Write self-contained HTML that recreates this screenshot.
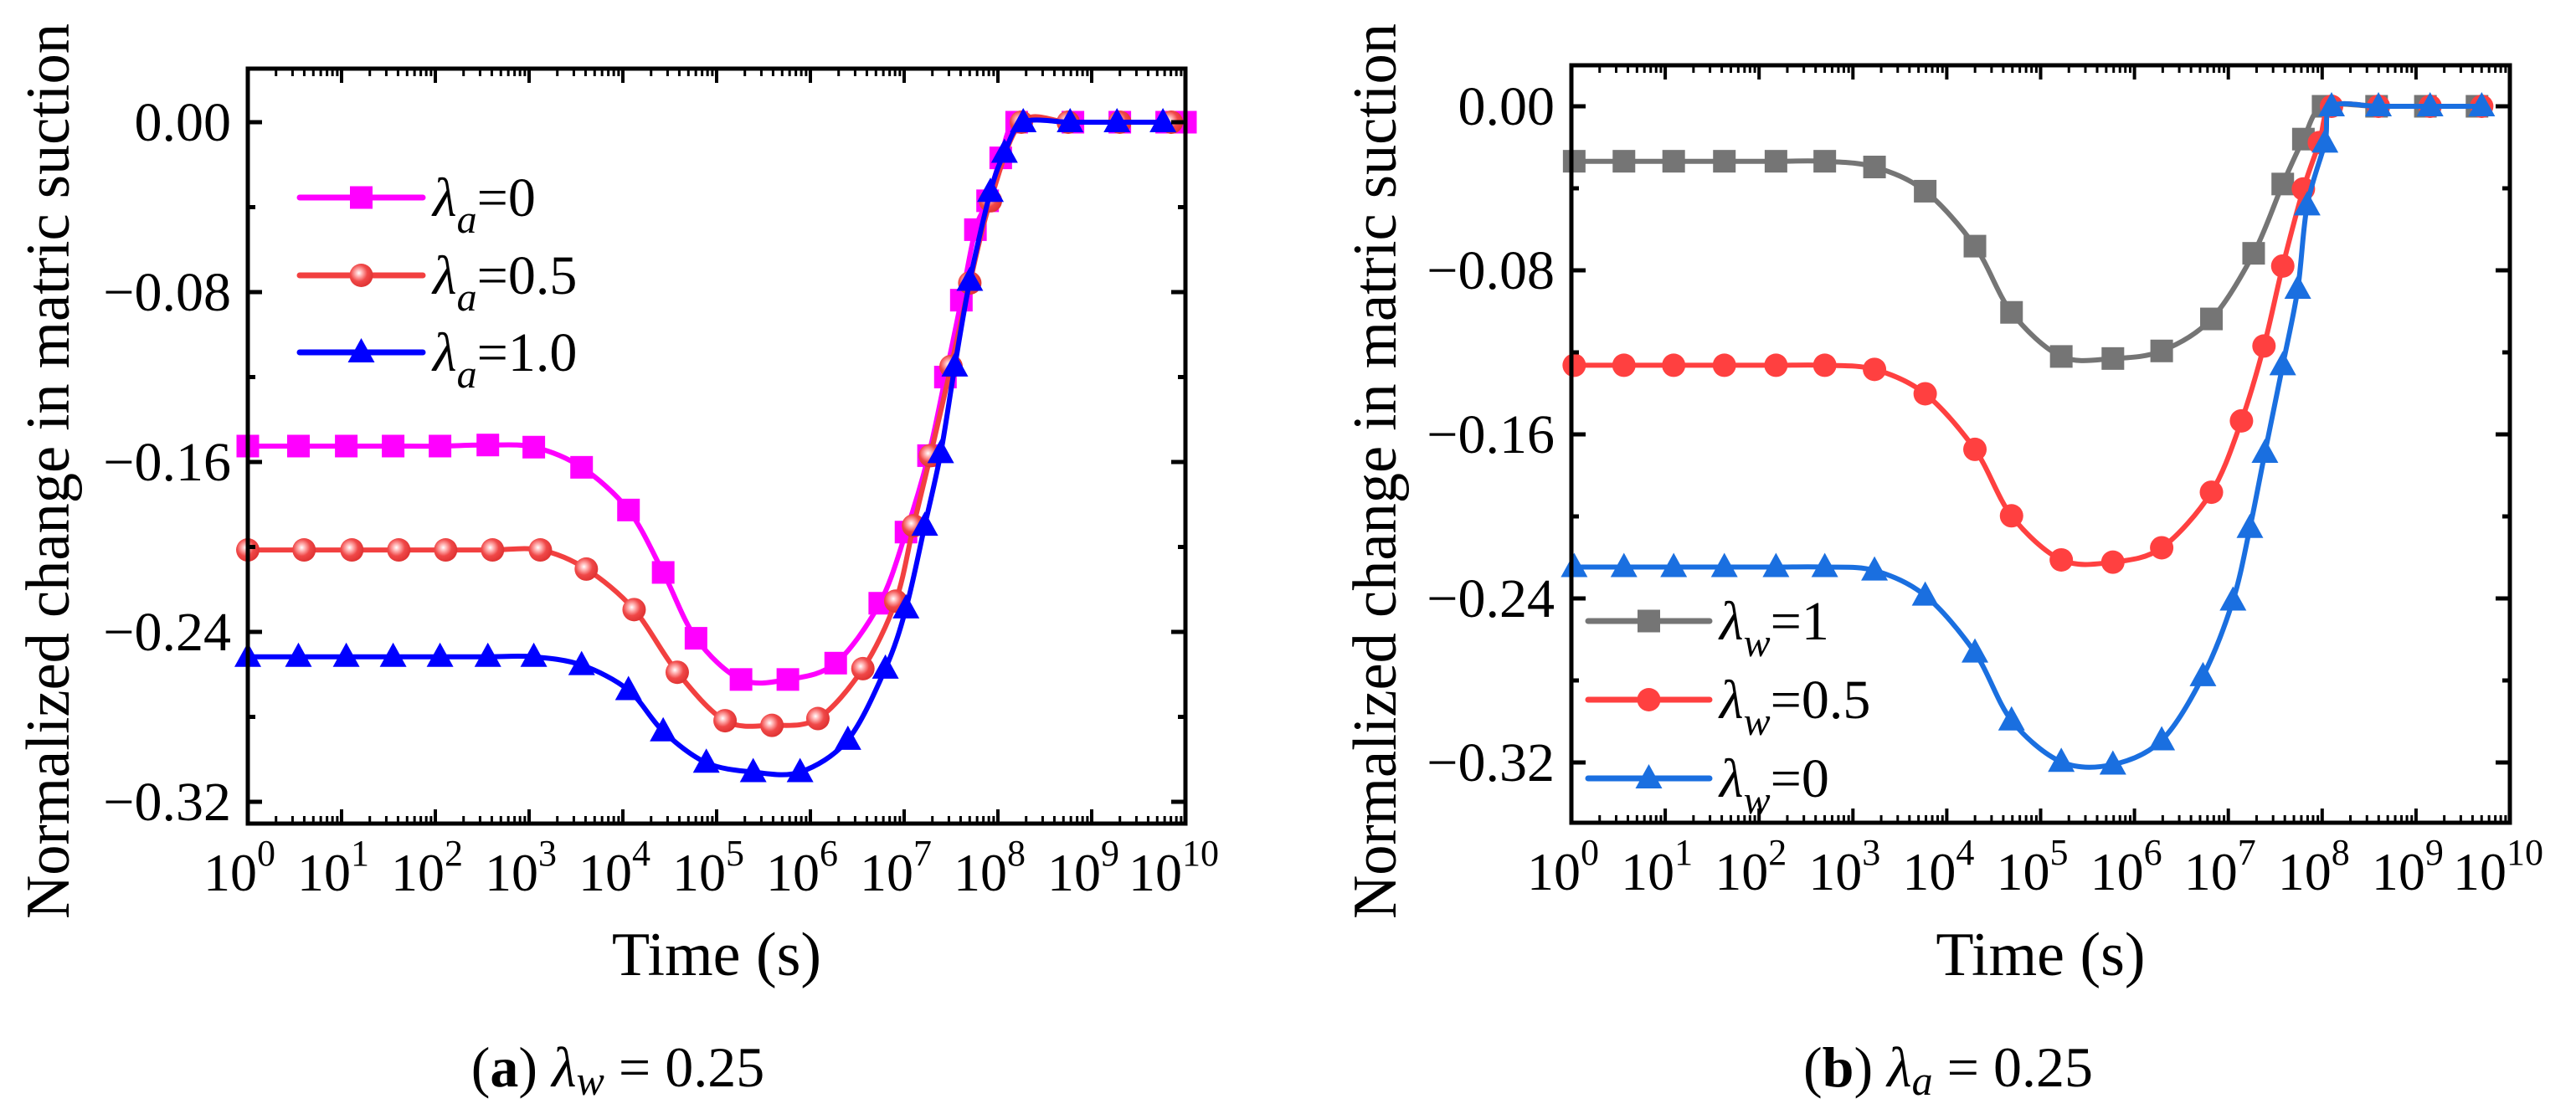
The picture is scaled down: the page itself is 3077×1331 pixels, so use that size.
<!DOCTYPE html>
<html><head><meta charset="utf-8">
<style>
html,body{margin:0;padding:0;background:#fff;}
svg{display:block;font-family:"Liberation Serif",serif;}
</style></head>
<body>
<svg id="fig" width="3077" height="1331" viewBox="0 0 3077 1331" xmlns="http://www.w3.org/2000/svg">
<defs>
<radialGradient id="sph" cx="0.4" cy="0.4" r="0.6">
<stop offset="0" stop-color="#ffffff"/><stop offset="0.25" stop-color="#ffb0b0"/><stop offset="0.6" stop-color="#f04848"/><stop offset="1" stop-color="#e03434"/>
</radialGradient>
</defs>
<g id="panelA"></g>
<g id="panelB"></g>
</svg>
<script>
// ---- Panel (a) data: x = log10(time), y = normalized change ----
const aMagX = [0,0.54,1.05,1.55,2.05,2.56,3.05,3.56,4.06,4.43,4.78,5.26,5.76,6.27,6.74,7.02,7.26,7.44,7.61,7.76,7.89,8.03,8.2,8.8,9.3,9.8,10];
const aMagY = [-0.1525,-0.1525,-0.1525,-0.1525,-0.1525,-0.152,-0.153,-0.1625,-0.1826,-0.212,-0.243,-0.2624,-0.2624,-0.2547,-0.2265,-0.193,-0.157,-0.12,-0.0838,-0.0506,-0.037,-0.0168,0,0,0,0,0];
const aRedX = [0,0.6,1.11,1.61,2.11,2.61,3.12,3.61,4.12,4.58,5.09,5.59,6.08,6.56,6.91,7.1,7.28,7.5,7.7,7.92,8.25,8.75,9.3,9.85];
const aRedY = [-0.2014,-0.2014,-0.2014,-0.2014,-0.2014,-0.2014,-0.2014,-0.2104,-0.2295,-0.259,-0.2818,-0.284,-0.2808,-0.2573,-0.2255,-0.19,-0.157,-0.115,-0.0757,-0.037,0,0,0,0];
const aBluX = [0,0.54,1.05,1.55,2.05,2.56,3.05,3.56,4.06,4.43,4.89,5.39,5.89,6.4,6.8,7.02,7.22,7.39,7.54,7.7,7.92,8.07,8.27,8.77,9.27,9.76];
const aBluY = [-0.2517,-0.2517,-0.2517,-0.2517,-0.2517,-0.2517,-0.2517,-0.2556,-0.2674,-0.2868,-0.3016,-0.306,-0.306,-0.2908,-0.2573,-0.2289,-0.19,-0.1558,-0.115,-0.0747,-0.0328,-0.0144,0,0,0,0];
// ---- Panel (b) data ----
const bGryX = [0.03,0.56,1.09,1.63,2.18,2.7,3.23,3.77,4.3,4.69,5.22,5.77,6.29,6.82,7.27,7.58,7.8,8.01,8.58,9.1,9.65];
const bGryY = [-0.0268,-0.0268,-0.0268,-0.0268,-0.0268,-0.0268,-0.0296,-0.0414,-0.0682,-0.1005,-0.122,-0.123,-0.1193,-0.1037,-0.0717,-0.0379,-0.016,0,0,0,0];
const bRedX = [0.03,0.56,1.09,1.63,2.18,2.7,3.23,3.77,4.3,4.69,5.22,5.77,6.29,6.82,7.14,7.38,7.58,7.8,7.97,8.1,8.6,9.15,9.7];
const bRedY = [-0.1263,-0.1263,-0.1263,-0.1263,-0.1263,-0.1263,-0.1283,-0.1402,-0.1673,-0.1997,-0.2212,-0.2223,-0.2153,-0.1882,-0.1534,-0.1169,-0.0779,-0.0403,-0.0177,0,0,0,0];
const bBluX = [0.03,0.56,1.09,1.63,2.18,2.7,3.23,3.77,4.3,4.69,5.22,5.77,6.29,6.73,7.05,7.23,7.39,7.58,7.74,7.84,8.03,8.1,8.6,9.15,9.7];
const bBluY = [-0.2247,-0.2247,-0.2247,-0.2247,-0.2247,-0.2247,-0.2264,-0.2386,-0.2664,-0.2995,-0.3197,-0.321,-0.3092,-0.2779,-0.241,-0.2056,-0.169,-0.1263,-0.089,-0.0483,-0.0177,0,0,0,0];
// ---- ticks ----
const yTicks = [0,-0.08,-0.16,-0.24,-0.32];
const yTickLabels = ["0.00","\u22120.08","\u22120.16","\u22120.24","\u22120.32"];
const yMinor = [-0.04,-0.12,-0.20,-0.28];
const xDecades = [0,1,2,3,4,5,6,7,8,9,10];

const NS="http://www.w3.org/2000/svg";
function el(tag,attrs,parent){const e=document.createElementNS(NS,tag);for(const k in attrs)e.setAttribute(k,attrs[k]);parent.appendChild(e);return e;}

function smoothPath(pts){
  let d="M"+pts[0][0].toFixed(1)+","+pts[0][1].toFixed(1);
  for(let i=0;i<pts.length-1;i++){
    const p0=pts[i-1]||pts[i],p1=pts[i],p2=pts[i+1],p3=pts[i+2]||p2;
    const t=0.16;
    const c1=[p1[0]+(p2[0]-p0[0])*t,p1[1]+(p2[1]-p0[1])*t];
    const c2=[p2[0]-(p3[0]-p1[0])*t,p2[1]-(p3[1]-p1[1])*t];
    d+=" C"+c1[0].toFixed(1)+","+c1[1].toFixed(1)+" "+c2[0].toFixed(1)+","+c2[1].toFixed(1)+" "+p2[0].toFixed(1)+","+p2[1].toFixed(1);
  }
  return d;
}
function marker(g,type,x,y,color){
  let m;
  if(type==="square"){m=el("rect",{x:x-13.5,y:y-13.5,width:27,height:27,fill:color},g);}
  else if(type==="sphere"){m=el("circle",{cx:x,cy:y,r:14,fill:"url(#sph)"},g);}
  else if(type==="circle"){m=el("circle",{cx:x,cy:y,r:14,fill:color},g);}
  else {m=el("polygon",{points:(x)+","+(y-17)+" "+(x-16)+","+(y+12)+" "+(x+16)+","+(y+12),fill:color},g);}
  
  
  return m;
}

function buildPanel(g,cfg){
  const L=cfg.left,R=cfg.right,T=cfg.top,B=cfg.bottom,y0=cfg.y0,k=cfg.perUnit;
  const xs=v=>L+(R-L)*v/10;
  const ys=v=>y0-v*k;
  // series
  cfg.series.forEach(s=>{
    const sg=el("g",{},g);
    
    
    const pts=s.x.map((v,i)=>[xs(v),ys(s.y[i])]);
    const p=el("path",{d:smoothPath(pts),fill:"none",stroke:s.color,"stroke-width":6,"stroke-linejoin":"round"},sg);
    
    
    pts.forEach(pt=>marker(sg,s.marker,pt[0],pt[1],s.color));
  });
  // frame
  const fr=el("rect",{x:L,y:T,width:R-L,height:B-T,fill:"none",stroke:"#000","stroke-width":5},g);
  
  
  // y ticks
  yTicks.forEach((v,i)=>{
    const y=ys(v);
    el("line",{x1:L,y1:y,x2:L+17,y2:y,stroke:"#000","stroke-width":5},g);
    el("line",{x1:R,y1:y,x2:R-17,y2:y,stroke:"#000","stroke-width":5},g);
    const t=el("text",{x:L-20,y:y+22,"font-size":66,"text-anchor":"end"},g);
    t.textContent=yTickLabels[i];
    
    
  });
  yMinor.forEach(v=>{
    const y=ys(v);
    el("line",{x1:L,y1:y,x2:L+9,y2:y,stroke:"#000","stroke-width":5},g);
    el("line",{x1:R,y1:y,x2:R-9,y2:y,stroke:"#000","stroke-width":5},g);
  });
  // x ticks
  xDecades.forEach(d=>{
    const x=xs(d);
    el("line",{x1:x,y1:B,x2:x,y2:B-17,stroke:"#000","stroke-width":4},g);
    el("line",{x1:x,y1:T,x2:x,y2:T+17,stroke:"#000","stroke-width":4},g);
    if(d<10){for(let m=2;m<=9;m++){const xm=xs(d+Math.log10(m));
      el("line",{x1:xm,y1:B,x2:xm,y2:B-9,stroke:"#000","stroke-width":3},g);
      el("line",{x1:xm,y1:T,x2:xm,y2:T+9,stroke:"#000","stroke-width":3},g);}}
    const t=el("text",{x:x-(d===10?14:10),y:B+80,"font-size":64,"text-anchor":"middle"},g);
    
    
    t.appendChild(document.createTextNode("10"));
    const sp=el("tspan",{"font-size":44,dy:-30},t);sp.textContent=String(d);
  });
  // axis titles
  const xt=el("text",{x:(L+R)/2,y:1165,"font-size":74,"text-anchor":"middle"},g);
  xt.textContent="Time (s)";
  
  
  const yt=el("text",{x:0,y:0,"font-size":74,"text-anchor":"middle",textLength:1070,lengthAdjust:"spacingAndGlyphs",transform:"translate("+cfg.ytX+",563) rotate(-90)"},g);
  yt.textContent="Normalized change in matric suction";
  
  
  // legend
  const lg=el("g",{},g);
  
  
  cfg.legend.forEach((e,i)=>{
    const s=cfg.series[e.s];const y=e.y;
    const eg=el("g",{},lg);
    
    
    el("line",{x1:cfg.legX1,y1:y,x2:cfg.legX2,y2:y,stroke:s.color,"stroke-width":7,"stroke-linecap":"round"},eg);
    marker(eg,s.marker,(cfg.legX1+cfg.legX2)/2,y,s.color);
    const t=el("text",{x:cfg.legX2+12,y:y+22,"font-size":66},eg);
    const l=el("tspan",{"font-style":"italic"},t);l.textContent="\u03bb";
    const sb=el("tspan",{"font-style":"italic","font-size":48,dy:20},t);sb.textContent=cfg.sub;
    const rest=el("tspan",{dy:-20},t);rest.textContent="="+e.label;
  });
  // caption
  const c=el("text",{x:cfg.capX,y:1298,"font-size":68,"text-anchor":"middle"},g);
  
  
  c.appendChild(document.createTextNode("("));
  const b=el("tspan",{"font-weight":"bold"},c);b.textContent=cfg.capLetter;
  c.appendChild(document.createTextNode(") "));
  const lam=el("tspan",{"font-style":"italic"},c);lam.textContent="\u03bb";
  const cs=el("tspan",{"font-style":"italic","font-size":50,dy:10},c);cs.textContent=cfg.capSub;
  const cr=el("tspan",{dy:-10},c);cr.textContent=" = 0.25";
}

buildPanel(document.getElementById("panelA"),{
  left:296,right:1416,top:82,bottom:984,y0:146,perUnit:203/0.08,ytX:82,
  series:[
    {name:"series-lambda-a-0",x:aMagX,y:aMagY,color:"#ff00ff",marker:"square"},
    {name:"series-lambda-a-0.5",x:aRedX,y:aRedY,color:"#f24040",marker:"sphere"},
    {name:"series-lambda-a-1.0",x:aBluX,y:aBluY,color:"#0000ff",marker:"triangle"}
  ],
  legend:[{s:0,y:236,label:"0"},{s:1,y:329,label:"0.5"},{s:2,y:421,label:"1.0"}],
  legX1:358,legX2:505,sub:"a",capX:738,capLetter:"a",capSub:"w"
});
buildPanel(document.getElementById("panelB"),{
  left:1877,right:2998,top:78,bottom:983,y0:127,perUnit:196/0.08,ytX:1667,
  series:[
    {name:"series-lambda-w-1",x:bGryX,y:bGryY,color:"#757575",marker:"square"},
    {name:"series-lambda-w-0.5",x:bRedX,y:bRedY,color:"#ff4040",marker:"circle"},
    {name:"series-lambda-w-0",x:bBluX,y:bBluY,color:"#1a6fe0",marker:"triangle"}
  ],
  legend:[{s:0,y:742,label:"1"},{s:1,y:836,label:"0.5"},{s:2,y:930,label:"0"}],
  legX1:1897,legX2:2042,sub:"w",capX:2327,capLetter:"b",capSub:"a"
});
</script>
</body></html>
